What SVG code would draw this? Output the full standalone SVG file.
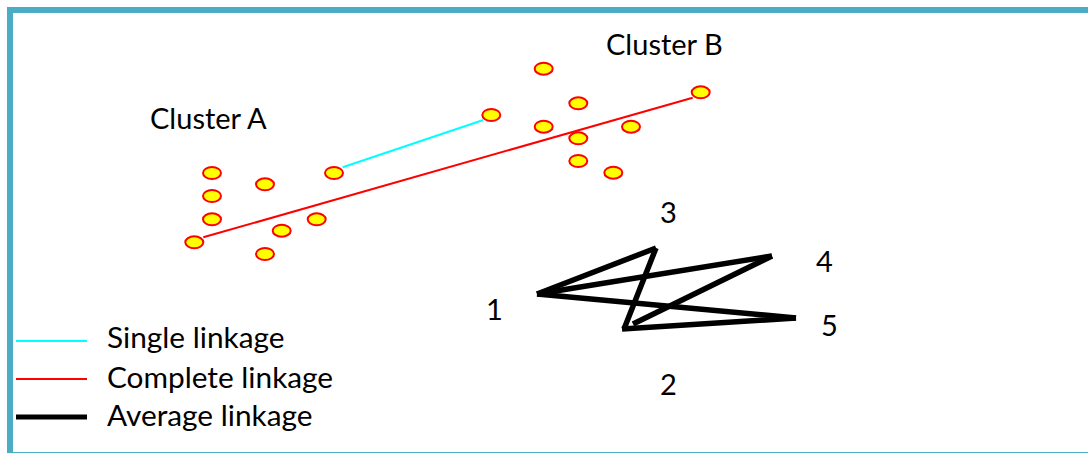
<svg xmlns="http://www.w3.org/2000/svg" width="1088" height="453" viewBox="0 0 1088 453">
<style>
.pt{fill:#ffff00;stroke:#ff0000;stroke-width:2}
.t{font-family:Lato,"Open Sans",sans-serif;font-size:29px;fill:#000}
.lg{font-size:29.8px}
.avg{stroke:#000;stroke-width:5.5;stroke-linecap:butt;fill:none}
</style>
<rect x="10" y="10" width="1090" height="445" fill="#fff" stroke="#4bacc6" stroke-width="6"/>
<g id="connectors">
<line x1="342.7" y1="167.3" x2="483.3" y2="120" stroke="#00ffff" stroke-width="2"/>
<line x1="203.3" y1="237.3" x2="692.7" y2="97.7" stroke="#ff0000" stroke-width="2"/>
<line class="avg" x1="537" y1="294" x2="656" y2="248"/>
<line class="avg" x1="656" y1="248" x2="624" y2="329"/>
<line class="avg" x1="537" y1="294" x2="772" y2="256"/>
<line class="avg" x1="537" y1="294" x2="796" y2="318"/>
<line class="avg" x1="622" y1="329" x2="796" y2="318"/>
<line class="avg" x1="633" y1="324" x2="772" y2="256"/>
</g>
<g id="clusterA">
<ellipse class="pt" cx="212" cy="173" rx="9" ry="6"/>
<ellipse class="pt" cx="212" cy="196" rx="9" ry="6"/>
<ellipse class="pt" cx="212" cy="219.3" rx="9" ry="6"/>
<ellipse class="pt" cx="265" cy="184.3" rx="9" ry="6"/>
<ellipse class="pt" cx="334" cy="173" rx="9" ry="6"/>
<ellipse class="pt" cx="316.7" cy="219.3" rx="9" ry="6"/>
<ellipse class="pt" cx="281.7" cy="230.7" rx="9" ry="6"/>
<ellipse class="pt" cx="265" cy="254" rx="9" ry="6"/>
<ellipse class="pt" cx="194.3" cy="242.3" rx="9" ry="6"/>
</g>
<g id="clusterB">
<ellipse class="pt" cx="543.7" cy="68.7" rx="9" ry="6"/>
<ellipse class="pt" cx="578.3" cy="103.3" rx="9" ry="6"/>
<ellipse class="pt" cx="491.3" cy="115" rx="9" ry="6"/>
<ellipse class="pt" cx="543.7" cy="126.7" rx="9" ry="6"/>
<ellipse class="pt" cx="631" cy="126.7" rx="9" ry="6"/>
<ellipse class="pt" cx="578.3" cy="138.3" rx="9" ry="6"/>
<ellipse class="pt" cx="578.3" cy="161" rx="9" ry="6"/>
<ellipse class="pt" cx="613.3" cy="172.7" rx="9" ry="6"/>
<ellipse class="pt" cx="700.7" cy="92.3" rx="9" ry="6"/>
</g>
<g id="labels">
<text class="t" x="150" y="129">Cluster A</text>
<text class="t" x="606" y="55">Cluster B</text>
<text class="t" x="486" y="320">1</text>
<text class="t" x="660" y="223">3</text>
<text class="t" x="816" y="272">4</text>
<text class="t" x="821" y="336">5</text>
<text class="t" x="660" y="395">2</text>
</g>
<g id="legend">
<line x1="16" y1="341" x2="87" y2="341" stroke="#00ffff" stroke-width="2"/>
<line x1="16" y1="379" x2="87" y2="379" stroke="#ff0000" stroke-width="2"/>
<line x1="16" y1="417" x2="87" y2="417" stroke="#000" stroke-width="5"/>
<text class="t lg" x="107" y="348">Single linkage</text>
<text class="t lg" x="107" y="388">Complete linkage</text>
<text class="t lg" x="107" y="426">Average linkage</text>
</g>
</svg>
